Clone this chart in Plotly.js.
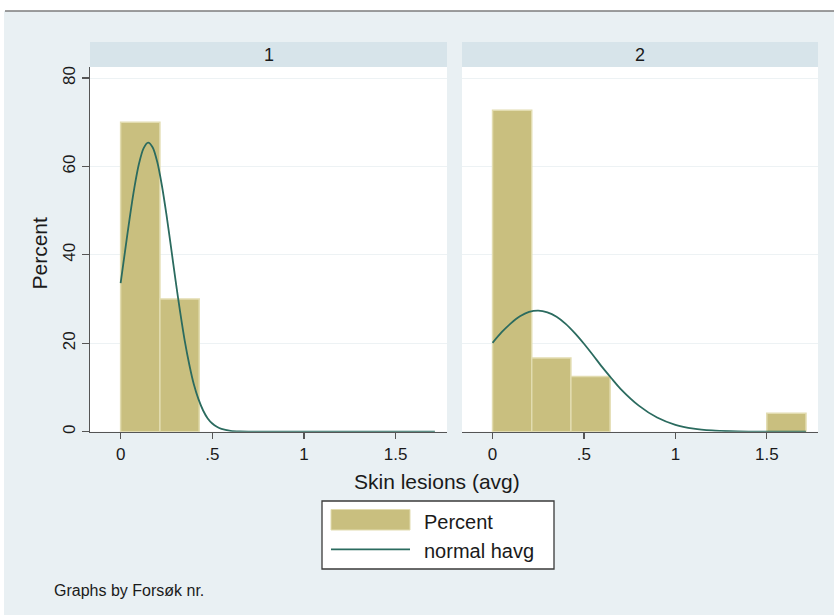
<!DOCTYPE html>
<html>
<head>
<meta charset="utf-8">
<script src="https://cdn.plot.ly/plotly-3.0.1.min.js"></script>
<style>
  html, body { margin: 0; padding: 0; background: #ffffff; }
  #chart { width: 834px; height: 615px; }
</style>
</head>
<body>
<div id="chart"></div>
<script>
// Histogram of average skin lesions by trial group (Forsøk nr.), percent scale,
// with the fitted normal density drawn over each panel.

const groups = ['1', '2'];
const binWidth = 0.2143;

// Bin left edges and percent of observations in each bin
const binStarts1 = [0, 0.2143];
const percent1 = [70, 30];

const binStarts2 = [0, 0.2143, 0.4286, 1.5];
const percent2 = [72.7, 16.67, 12.5, 4.17];

// Normal curve (percent scale)
const normX1 = [0, 0.025, 0.05, 0.075, 0.1, 0.125, 0.15, 0.175, 0.2, 0.225, 0.25, 0.275, 0.3, 0.325,
                0.35, 0.375, 0.4, 0.425, 0.45, 0.475, 0.5, 0.525, 0.55, 0.6, 0.65, 0.7, 0.8, 1.0, 1.2, 1.4, 1.6, 1.714];
const normY1 = [33.6, 41.1, 48.5, 55.2, 60.6, 64.1, 65.4, 64.3, 61.0, 55.7, 49.1, 41.7, 34.1, 27.0,
                20.5, 15.1, 10.6, 7.3, 4.8, 3.0, 1.85, 1.1, 0.62, 0.18, 0.04, 0.01, 0, 0, 0, 0, 0, 0];

const normX2 = [0, 0.05, 0.1, 0.15, 0.2, 0.25, 0.3, 0.35, 0.4, 0.45, 0.5, 0.55, 0.6, 0.65, 0.7,
                0.8, 0.9, 1.0, 1.1, 1.2, 1.3, 1.4, 1.5, 1.6, 1.714];
const normY2 = [20.1, 22.5, 24.5, 26.1, 27.1, 27.4, 27.0, 26.0, 24.4, 22.3, 19.9, 17.3, 14.6, 12.1, 9.7,
                5.9, 3.2, 1.56, 0.70, 0.28, 0.10, 0.03, 0.01, 0, 0];

const xTickVals = [0, 0.5, 1, 1.5];
const xTickText = ['0', '.5', '1', '1.5'];
const yTickVals = [0, 20, 40, 60, 80];
const yTickText = ['0', '20', '40', '60', '80'];

const xTitle = 'Skin lesions (avg)';
const yTitle = 'Percent';
const legendLabels = ['Percent', 'normal havg'];
const byNote = 'Graphs by Forsøk nr.';

// ---- styling ----
const W = 834, H = 615;
const FONT = '"Liberation Sans", Arial, Helvetica, sans-serif';
const barColor = '#c9bf7f';
const barEdge = '#e2dcb0';
const curveColor = '#2b6b5f';
const bgColor = '#e9f0f3';
const stripColor = '#d7e4ea';
const axisColor = '#555555';
const gridColor = '#edf2f4';

const px = v => v / W;          // pixel x -> paper
const py = v => (H - v) / H;    // pixel y (from top) -> paper

const centers = starts => starts.map(s => s + binWidth / 2);

const traces = [
  {
    type: 'bar', x: centers(binStarts1), y: percent1, width: binWidth,
    xaxis: 'x', yaxis: 'y', name: legendLabels[0],
    marker: { color: barColor, line: { color: barEdge, width: 1.5 } },
    hoverinfo: 'x+y'
  },
  {
    type: 'scatter', mode: 'lines', x: normX1, y: normY1,
    xaxis: 'x', yaxis: 'y', name: legendLabels[1],
    line: { color: curveColor, width: 1.8, shape: 'spline', smoothing: 0.8 }
  },
  {
    type: 'bar', x: centers(binStarts2), y: percent2, width: binWidth,
    xaxis: 'x2', yaxis: 'y2', name: legendLabels[0],
    marker: { color: barColor, line: { color: barEdge, width: 1.5 } },
    hoverinfo: 'x+y'
  },
  {
    type: 'scatter', mode: 'lines', x: normX2, y: normY2,
    xaxis: 'x2', yaxis: 'y2', name: legendLabels[1],
    line: { color: curveColor, width: 1.8, shape: 'spline', smoothing: 0.8 }
  }
];

const plotTop = 67, plotBottom = 431.7;
const p1 = [90, 447], p2 = [462, 818];

const xAxisBase = {
  range: [-0.167, 1.78],
  tickvals: xTickVals, ticktext: xTickText,
  ticks: 'outside', ticklen: 6, tickwidth: 1.2, tickcolor: axisColor,
  showline: true, linecolor: axisColor, linewidth: 1.5,
  showgrid: false, zeroline: false, fixedrange: true,
  tickfont: { family: FONT, size: 17, color: '#1a1a1a' }
};

const layout = {
  width: W, height: H,
  margin: { l: 0, r: 0, t: 0, b: 0 },
  paper_bgcolor: bgColor,
  plot_bgcolor: '#ffffff',
  showlegend: false,
  bargap: 0,
  font: { family: FONT, color: '#1a1a1a' },
  xaxis: Object.assign({}, xAxisBase, { domain: [px(p1[0]), px(p1[1])], anchor: 'y' }),
  xaxis2: Object.assign({}, xAxisBase, { domain: [px(p2[0]), px(p2[1])], anchor: 'y2' }),
  yaxis: {
    domain: [py(plotBottom), py(plotTop)], range: [0, 82.5], anchor: 'x',
    tickvals: yTickVals, ticktext: yTickText, tickangle: -90,
    ticks: 'outside', ticklen: 7, tickwidth: 1.2, tickcolor: axisColor,
    showline: true, linecolor: axisColor, linewidth: 1.5,
    showgrid: true, gridcolor: gridColor, gridwidth: 1, zeroline: false, fixedrange: true,
    tickfont: { family: FONT, size: 17, color: '#1a1a1a' }
  },
  yaxis2: {
    domain: [py(plotBottom), py(plotTop)], range: [0, 82.5], anchor: 'x2', matches: 'y',
    tickvals: yTickVals, showticklabels: false, ticks: '',
    showline: false, showgrid: true, gridcolor: gridColor, gridwidth: 1, zeroline: false, fixedrange: true
  },
  shapes: [
    // white band above the graph region and its rule
    { type: 'rect', xref: 'paper', yref: 'paper', x0: 0, x1: 1, y0: py(11), y1: 1,
      fillcolor: '#ffffff', line: { width: 0 } },
    { type: 'rect', xref: 'paper', yref: 'paper', x0: 0, x1: px(4), y0: 0, y1: 1,
      fillcolor: '#ffffff', line: { width: 0 } },
    { type: 'line', xref: 'paper', yref: 'paper', x0: px(5), x1: 1, y0: py(11), y1: py(11),
      line: { color: '#7c7c7c', width: 1.5 } },
    // panel header strips
    { type: 'rect', xref: 'paper', yref: 'paper', x0: px(p1[0]), x1: px(p1[1]), y0: py(plotTop), y1: py(42),
      fillcolor: stripColor, line: { width: 0 } },
    { type: 'rect', xref: 'paper', yref: 'paper', x0: px(p2[0]), x1: px(p2[1]), y0: py(plotTop), y1: py(42),
      fillcolor: stripColor, line: { width: 0 } },
    // legend box with keys
    { type: 'rect', xref: 'paper', yref: 'paper', x0: px(322), x1: px(554), y0: py(569), y1: py(501),
      fillcolor: '#ffffff', line: { color: '#3a3a3a', width: 1.3 } },
    { type: 'rect', xref: 'paper', yref: 'paper', x0: px(331), x1: px(410), y0: py(530), y1: py(509.5),
      fillcolor: barColor, line: { color: barEdge, width: 1 } },
    { type: 'line', xref: 'paper', yref: 'paper', x0: px(331), x1: px(410), y0: py(549.3), y1: py(549.3),
      line: { color: curveColor, width: 1.8 } }
  ],
  annotations: [
    { text: groups[0], xref: 'paper', yref: 'paper', x: px((p1[0] + p1[1]) / 2), y: py(54.5),
      xanchor: 'center', yanchor: 'middle', showarrow: false, font: { size: 18, color: '#1a1a1a' } },
    { text: groups[1], xref: 'paper', yref: 'paper', x: px((p2[0] + p2[1]) / 2), y: py(54.5),
      xanchor: 'center', yanchor: 'middle', showarrow: false, font: { size: 18, color: '#1a1a1a' } },
    { text: yTitle, xref: 'paper', yref: 'paper', x: px(38.5), y: py(253), textangle: -90,
      xanchor: 'center', yanchor: 'middle', showarrow: false, font: { size: 21, color: '#1a1a1a' } },
    { text: xTitle, xref: 'paper', yref: 'paper', x: px(437.5), y: py(481.7),
      xanchor: 'center', yanchor: 'middle', showarrow: false, font: { size: 21, color: '#1a1a1a' } },
    { text: legendLabels[0], xref: 'paper', yref: 'paper', x: px(422), y: py(521.5),
      xanchor: 'left', yanchor: 'middle', showarrow: false, font: { size: 20, color: '#1a1a1a' } },
    { text: legendLabels[1], xref: 'paper', yref: 'paper', x: px(422), y: py(550.5),
      xanchor: 'left', yanchor: 'middle', showarrow: false, font: { size: 20, color: '#1a1a1a' } },
    { text: byNote, xref: 'paper', yref: 'paper', x: px(52), y: py(590),
      xanchor: 'left', yanchor: 'middle', showarrow: false, font: { size: 16, color: '#1a1a1a' } }
  ]
};

Plotly.newPlot('chart', traces, layout, { displayModeBar: false, staticPlot: true });
</script>
</body>
</html>
